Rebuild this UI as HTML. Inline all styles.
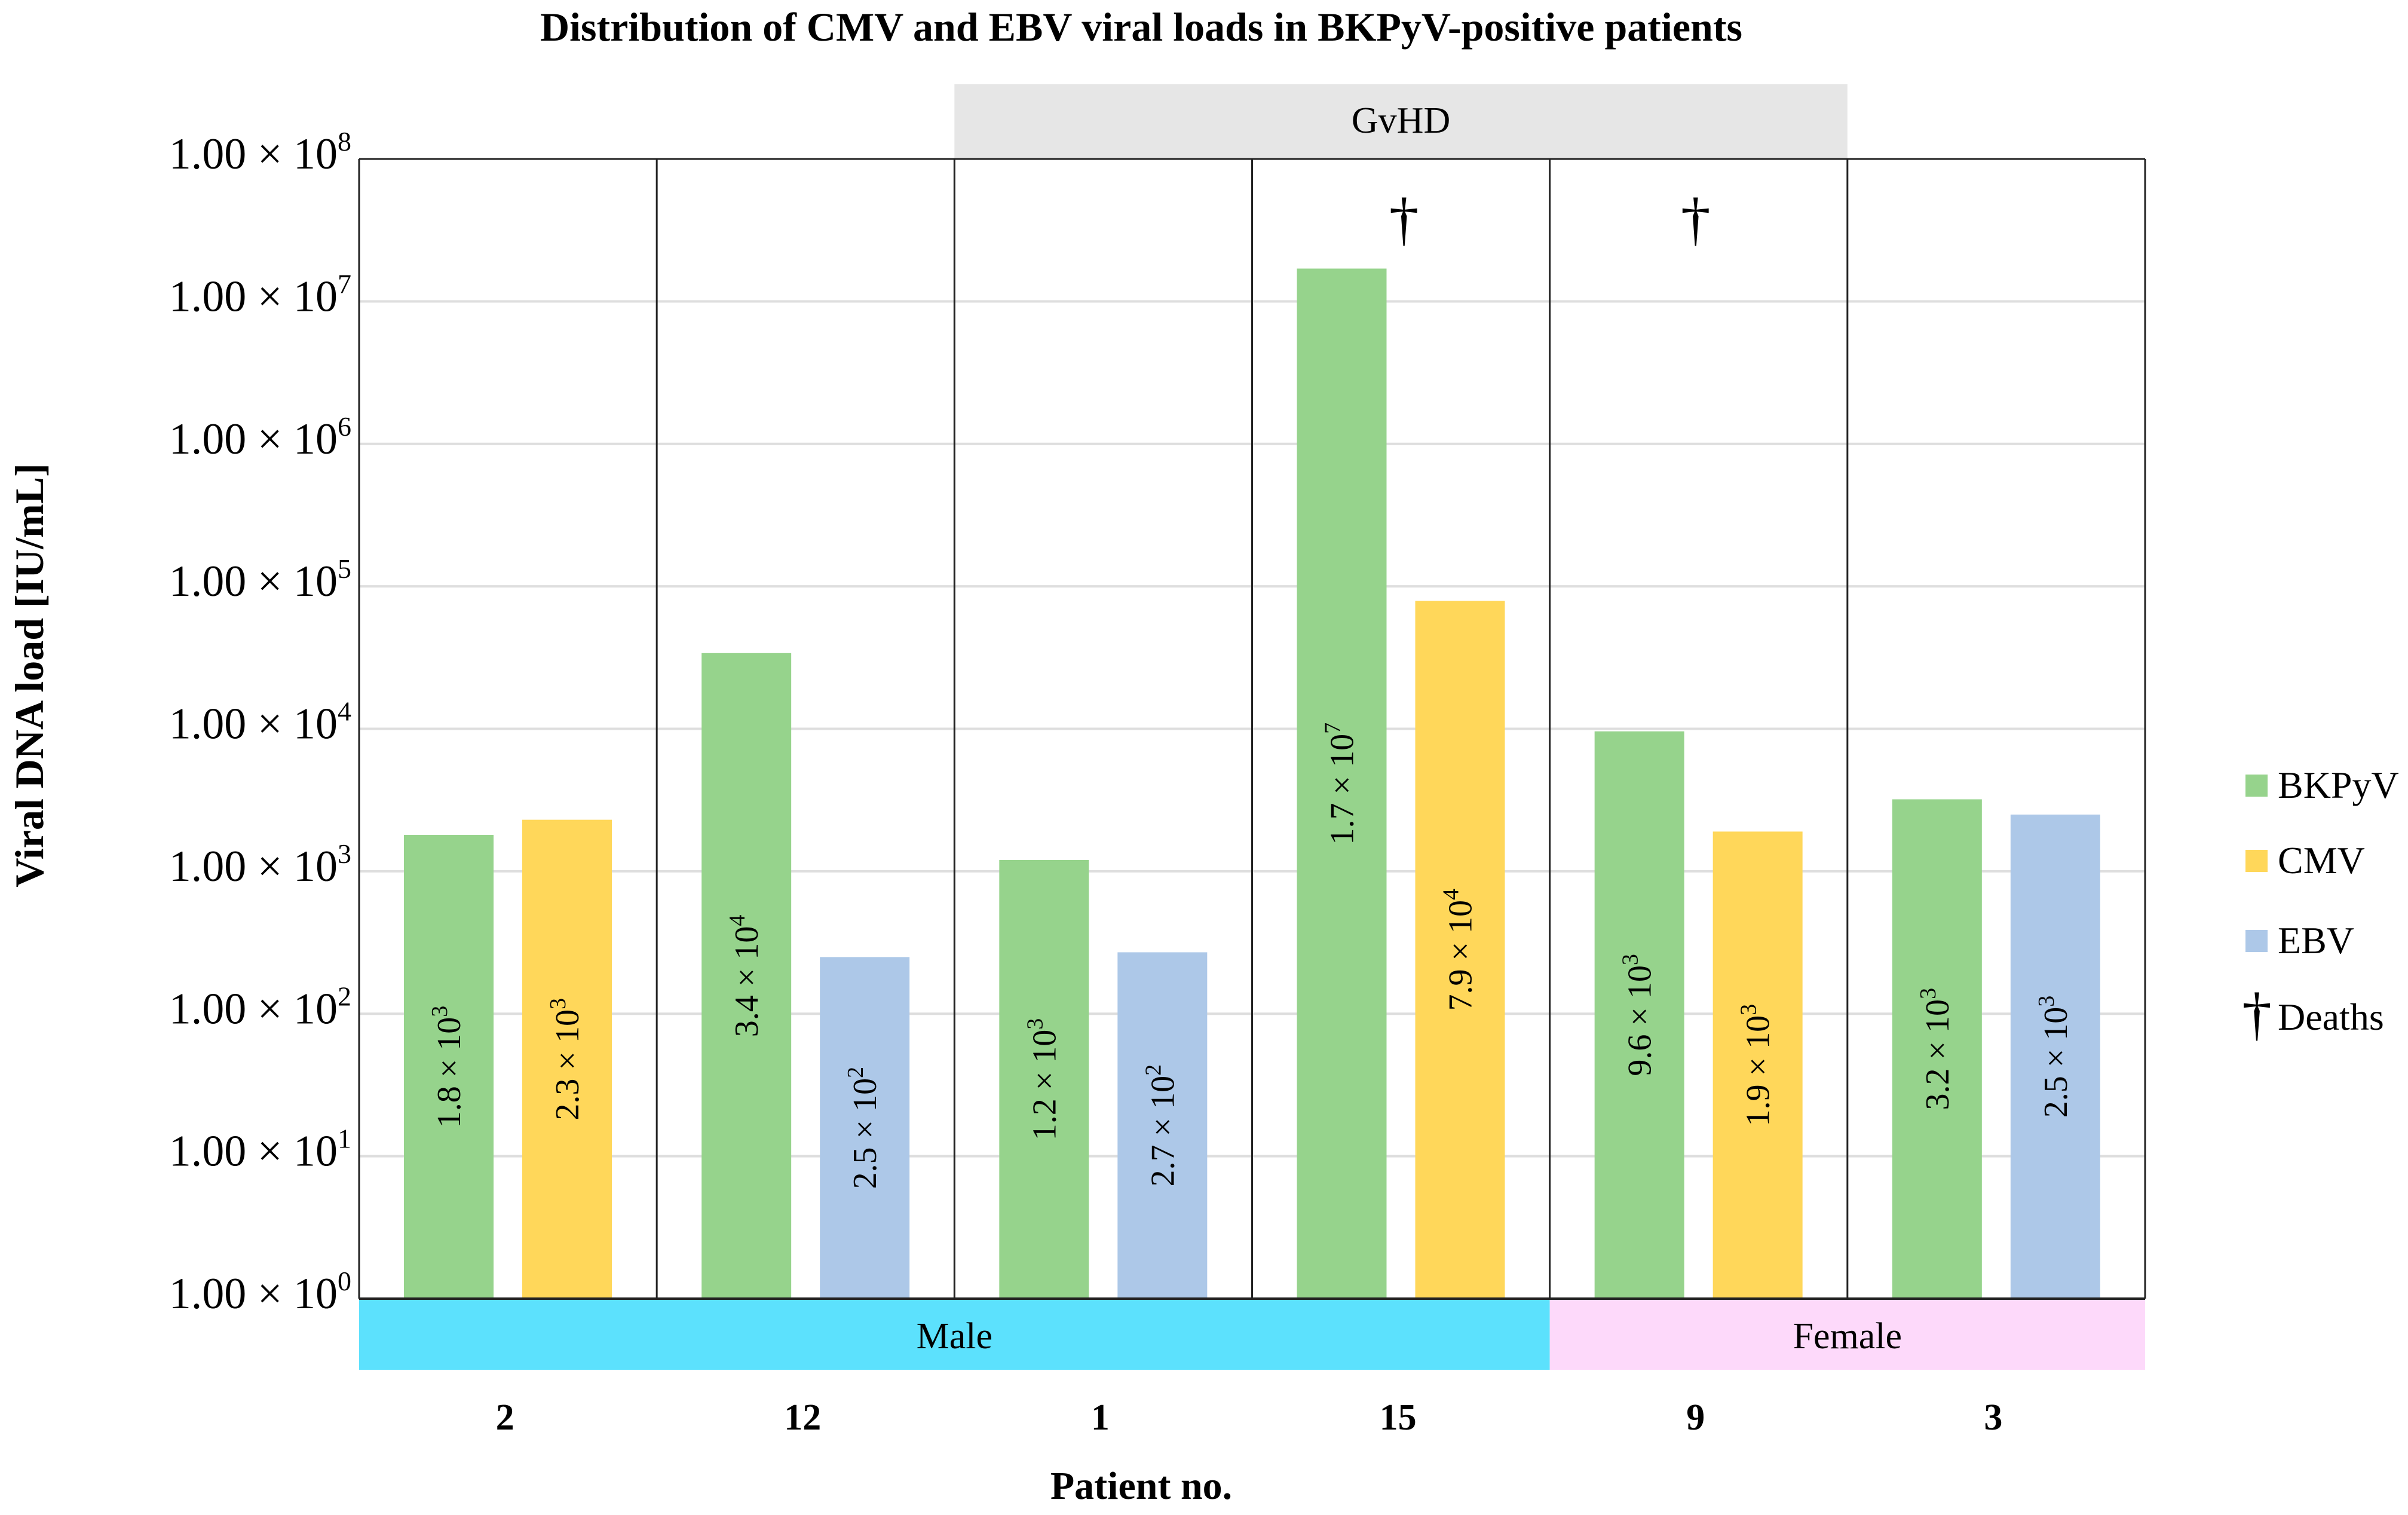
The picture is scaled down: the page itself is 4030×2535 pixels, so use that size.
<!DOCTYPE html>
<html><head><meta charset="utf-8"><style>
html,body{margin:0;padding:0;background:#fff}
svg{display:block;font-family:"Liberation Serif",serif}
</style></head><body>
<svg id="chart" width="4030" height="2535" viewBox="0 0 4030 2535" xmlns="http://www.w3.org/2000/svg">
<text x="1910" y="68" text-anchor="middle" font-size="68" font-weight="bold">Distribution of CMV and EBV viral loads in BKPyV-positive patients</text>
<g id="bands"></g>
<g id="grid"></g>
<g id="bars"></g>
<g id="frame"></g>
<text transform="translate(72,1130) rotate(-90)" text-anchor="middle" font-size="68" font-weight="bold">Viral DNA load [IU/mL]</text>
<text x="1910" y="2508" text-anchor="middle" font-size="66" font-weight="bold">Patient no.</text>
<g>
<rect x="3758" y="1296" width="37" height="37" fill="#96d38c"/>
<text x="3812" y="1335" font-size="64">BKPyV</text>
<rect x="3758" y="1422" width="37" height="37" fill="#ffd75a"/>
<text x="3812" y="1461" font-size="64">CMV</text>
<rect x="3758" y="1556" width="37" height="37" fill="#adc8e8"/>
<text x="3812" y="1595" font-size="64">EBV</text>
<text x="3752" y="1730" font-size="100">†</text>
<text x="3812" y="1723" font-size="64">Deaths</text>
</g>
</svg>
<script>
const patients = ["2","12","1","15","9","3"];
const firstSeries = ["BKPyV","BKPyV","BKPyV","BKPyV","BKPyV","BKPyV"];
const firstValues = [1.8e3, 3.4e4, 1.2e3, 1.7e7, 9.6e3, 3.2e3];
const firstLabels = ["1.8|3","3.4|4","1.2|3","1.7|7","9.6|3","3.2|3"];
const secondSeries = ["CMV","EBV","EBV","CMV","CMV","EBV"];
const secondValues = [2.3e3, 2.5e2, 2.7e2, 7.9e4, 1.9e3, 2.5e3];
const secondLabels = ["2.3|3","2.5|2","2.7|2","7.9|4","1.9|3","2.5|3"];
const deaths = [false,false,false,true,true,false];
const yTicks = [0,1,2,3,4,5,6,7,8];

const NS="http://www.w3.org/2000/svg";
const L=601, R=3590, TOP=266, BOT=2173, colW=(R-L)/patients.length;
const colors={BKPyV:"#96d38c",CMV:"#ffd75a",EBV:"#adc8e8"};
function y(v){return BOT-(Math.log10(v)/8)*(BOT-TOP);}
function yExp(e){return BOT-(e/8)*(BOT-TOP);}
function mk(tag,attrs,parent,text){const e=document.createElementNS(NS,tag);for(const k in attrs)e.setAttribute(k,attrs[k]);if(text!==undefined)e.textContent=text;parent.appendChild(e);return e;}
const grid=document.getElementById('grid'),bars=document.getElementById('bars'),frame=document.getElementById('frame'),bands=document.getElementById('bands');

let b=mk('rect',{x:L+2*colW,y:141,width:3*colW,height:TOP-141,fill:"#e6e6e6"},bands);


let t=mk('text',{x:L+3.5*colW,y:222,'text-anchor':'middle','font-size':62},bands,"GvHD");


b=mk('rect',{x:L,y:BOT,width:4*colW,height:2292-BOT,fill:"#5ce1fd"},bands);


t=mk('text',{x:L+2*colW,y:2256,'text-anchor':'middle','font-size':62},bands,"Male");


b=mk('rect',{x:L+4*colW,y:BOT,width:2*colW,height:2292-BOT,fill:"#fdd9fa"},bands);


t=mk('text',{x:L+5*colW,y:2256,'text-anchor':'middle','font-size':62},bands,"Female");



yTicks.forEach(e=>{
  const yy=yExp(e);
  if(e>0&&e<8){const g=mk('line',{x1:L,x2:R,y1:yy,y2:yy,stroke:"#dedede","stroke-width":4},grid);
  
  }
  const tx=mk('text',{x:588,y:yy+16,'text-anchor':'end','font-size':74},grid);
  
  
  mk('tspan',{},tx,"1.00 × 10");
  mk('tspan',{'font-size':46,dy:-30},tx,String(e));
});

function valLabel(cx,top,lab){
  const [m,ex]=lab.split('|');
  const cy=(top+BOT)/2;
  const tx=mk('text',{transform:`translate(${cx+19},${cy}) rotate(-90)`,'text-anchor':'middle','font-size':56},bars);
  
  
  mk('tspan',{},tx,m+" × 10");
  mk('tspan',{'font-size':38,dy:-22},tx,ex);
}
patients.forEach((p,i)=>{
  const x0=L+i*colW;
  const bx1=x0+75,bx2=x0+273,bw=150;
  const y1=y(firstValues[i]),y2=y(secondValues[i]);
  let r=mk('rect',{x:bx1,y:y1,width:bw,height:BOT-y1,fill:colors[firstSeries[i]]},bars);
  
  
  r=mk('rect',{x:bx2,y:y2,width:bw,height:BOT-y2,fill:colors[secondSeries[i]]},bars);
  
  
  valLabel(bx1+bw/2,y1,firstLabels[i]);
  valLabel(bx2+bw/2,y2,secondLabels[i]);
  const pl=mk('text',{x:x0+colW/2-5,y:2392,'text-anchor':'middle','font-size':62,'font-weight':'bold'},frame,p);
  
  
  if(deaths[i]){
    const d=mk('text',{x:x0+colW/2 + (i===3?5:-5),y:400,'text-anchor':'middle','font-size':100},frame,"†");
    
    
  }
});
for(let i=0;i<=patients.length;i++){
  const xx=L+i*colW;
  const l=mk('line',{x1:xx,x2:xx,y1:TOP,y2:BOT,stroke:"#222","stroke-width":3},frame);
  
  
}
let ln=mk('line',{x1:L,x2:R,y1:TOP,y2:TOP,stroke:"#222","stroke-width":3},frame);


ln=mk('line',{x1:L,x2:R,y1:BOT,y2:BOT,stroke:"#222","stroke-width":4},frame);


</script>
</body></html>
